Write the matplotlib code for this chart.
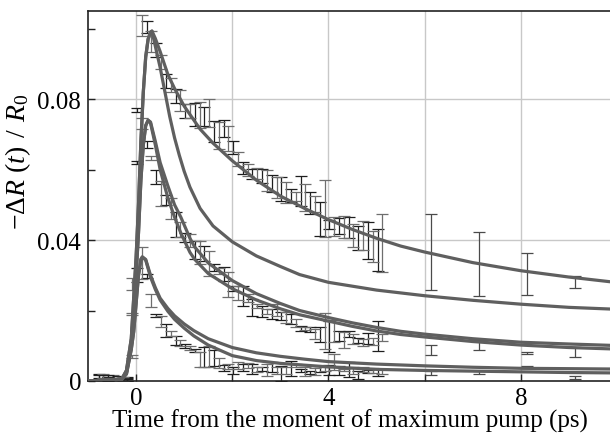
import numpy as np
import matplotlib
matplotlib.use("Agg")
import matplotlib.pyplot as plt
from matplotlib.ticker import FixedLocator, FixedFormatter

plt.rcParams['font.family'] = ['Liberation Serif', 'DejaVu Serif']
plt.rcParams['mathtext.fontset'] = 'custom'
plt.rcParams['mathtext.rm'] = 'Liberation Serif'
plt.rcParams['mathtext.it'] = 'Liberation Serif:italic'

# ---------------- measured data (dense part) ----------------
t_dense = [-0.78, -0.68, -0.58, -0.48, -0.38, -0.28, -0.18, -0.08, 0.02, 0.12,
           0.22, 0.32, 0.42, 0.52, 0.62, 0.72, 0.82, 0.92, 1.02, 1.12,
           1.22, 1.32, 1.42, 1.52, 1.62, 1.72, 1.82, 1.92, 2.02, 2.12,
           2.22, 2.32, 2.42, 2.52, 2.62, 2.72, 2.82, 2.92, 3.02, 3.12,
           3.22, 3.32, 3.42, 3.52, 3.62, 3.72, 3.82, 3.92, 4.02, 4.12,
           4.22, 4.32, 4.42, 4.52, 4.62, 4.72, 4.82, 4.92, 5.02, 5.12]

high_y = [0.0008, 0.0012, 0.0004, 0.0010, 0.0003, 0.0002, 0.0006, 0.0190, 0.0770, 0.1010,
          0.1004, 0.0964, 0.0940, 0.0905, 0.0852, 0.0840, 0.0810, 0.0795, 0.0765, 0.0767,
          0.0757, 0.0755, 0.0750, 0.0760, 0.0708, 0.0697, 0.0717, 0.0688, 0.0662, 0.0630,
          0.0604, 0.0598, 0.0587, 0.0588, 0.0582, 0.0570, 0.0560, 0.0548, 0.0545, 0.0535,
          0.0527, 0.0523, 0.0539, 0.0520, 0.0505, 0.0502, 0.0460, 0.0489, 0.0443, 0.0438,
          0.0440, 0.0437, 0.0436, 0.0412, 0.0406, 0.0413, 0.0398, 0.0382, 0.0371, 0.0391]
high_e = [0.0012, 0.0008, 0.0006, 0.0006, 0.0005, 0.0005, 0.0006, 0.0004, 0.0006, 0.0030,
          0.0017, 0.0030, 0.0020, 0.0020, 0.0020, 0.0020, 0.0020, 0.0030, 0.0020, 0.0020,
          0.0033, 0.0037, 0.0027, 0.0040, 0.0030, 0.0038, 0.0024, 0.0035, 0.0018, 0.0021,
          0.0017, 0.0017, 0.0014, 0.0016, 0.0020, 0.0030, 0.0025, 0.0030, 0.0035, 0.0030,
          0.0019, 0.0013, 0.0043, 0.0038, 0.0031, 0.0023, 0.0048, 0.0081, 0.0013, 0.0027,
          0.0023, 0.0031, 0.0030, 0.0033, 0.0033, 0.0041, 0.0052, 0.0044, 0.0060, 0.0082]

mid_y = [0.0003, 0.0010, 0.0005, 0.0002, 0.0008, 0.0000, 0.0004, 0.0070, 0.0620, 0.0730,
         0.0670, 0.0632, 0.0580, 0.0533, 0.0514, 0.0490, 0.0444, 0.0430, 0.0407, 0.0399,
         0.0372, 0.0365, 0.0362, 0.0334, 0.0323, 0.0312, 0.0303, 0.0274, 0.0262, 0.0250,
         0.0241, 0.0235, 0.0209, 0.0213, 0.0197, 0.0197, 0.0190, 0.0201, 0.0185, 0.0180,
         0.0176, 0.0165, 0.0149, 0.0150, 0.0146, 0.0133, 0.0132, 0.0142, 0.0126, 0.0141,
         0.0128, 0.0116, 0.0134, 0.0119, 0.0115, 0.0109, 0.0120, 0.0112, 0.0128, 0.0123]
mid_e = [0.0006, 0.0007, 0.0005, 0.0005, 0.0006, 0.0005, 0.0005, 0.0005, 0.0005, 0.0015,
         0.0010, 0.0006, 0.0020, 0.0035, 0.0015, 0.0030, 0.0035, 0.0021, 0.0013, 0.0018,
         0.0026, 0.0033, 0.0021, 0.0035, 0.0010, 0.0009, 0.0020, 0.0035, 0.0008, 0.0020,
         0.0028, 0.0011, 0.0024, 0.0005, 0.0016, 0.0008, 0.0015, 0.0017, 0.0012, 0.0015,
         0.0014, 0.0012, 0.0007, 0.0004, 0.0007, 0.0014, 0.0021, 0.0050, 0.0043, 0.0031,
         0.0014, 0.0023, 0.0009, 0.0014, 0.0008, 0.0011, 0.0015, 0.0010, 0.0043, 0.0010]

low_y = [0.0006, 0.0002, 0.0010, 0.0003, 0.0000, 0.0005, 0.0002, 0.0275, 0.0300, 0.0335,
         0.0298, 0.0229, 0.0187, 0.0169, 0.0144, 0.0135, 0.0115, 0.0108, 0.0100, 0.0093,
         0.0086, 0.0062, 0.0068, 0.0070, 0.0065, 0.0050, 0.0037, 0.0041, 0.0031, 0.0043,
         0.0038, 0.0044, 0.0034, 0.0032, 0.0034, 0.0030, 0.0040, 0.0030, 0.0022, 0.0030,
         0.0035, 0.0043, 0.0030, 0.0027, 0.0024, 0.0027, 0.0034, 0.0034, 0.0030, 0.0054,
         0.0030, 0.0031, 0.0033, 0.0030, 0.0017, 0.0032, 0.0027, 0.0030, 0.0025, 0.0027]
low_e = [0.0010, 0.0006, 0.0007, 0.0005, 0.0005, 0.0006, 0.0005, 0.0017, 0.0020, 0.0045,
         0.0005, 0.0018, 0.0004, 0.0015, 0.0018, 0.0007, 0.0012, 0.0008, 0.0005, 0.0005,
         0.0005, 0.0021, 0.0028, 0.0030, 0.0022, 0.0014, 0.0009, 0.0007, 0.0010, 0.0010,
         0.0010, 0.0007, 0.0014, 0.0007, 0.0006, 0.0017, 0.0014, 0.0010, 0.0021, 0.0010,
         0.0021, 0.0004, 0.0004, 0.0013, 0.0004, 0.0010, 0.0008, 0.0006, 0.0014, 0.0024,
         0.0013, 0.0004, 0.0021, 0.0010, 0.0011, 0.0007, 0.0005, 0.0008, 0.0010, 0.0006]

# ---------------- measured data (sparse part) ----------------
t_sparse = [6.14, 7.14, 8.13, 9.13]
high_sy = [0.0366, 0.0332, 0.0303, 0.0281]
high_se = [0.0107, 0.0092, 0.0059, 0.0018]
mid_sy = [0.0088, 0.0102, 0.0079, 0.0083]
mid_se = [0.0014, 0.0015, 0.0002, 0.0014]
low_sy = [0.0023, 0.0025, 0.0040, 0.0011]
low_se = [0.0006, 0.0004, 0.0002, 0.0004]

# ---------------- fitted model curves ----------------
tA = [-1.0, -0.3, -0.2, -0.1, 0.0, 0.05, 0.1, 0.15, 0.2, 0.25, 0.3, 0.33, 0.4, 0.5, 0.66, 0.8,
      1.0, 1.33, 1.6, 2.0, 2.5, 3.0, 3.5, 4.0, 4.5, 5.0, 5.5, 6.0, 7.0, 8.0, 9.0, 9.9]
fitA = [0.0, 0.0005, 0.003, 0.012, 0.035, 0.050, 0.068, 0.082, 0.092, 0.097, 0.0990, 0.0993,
        0.0972, 0.0935, 0.0870, 0.0830, 0.0780, 0.0715, 0.0675, 0.0625, 0.0570, 0.0525,
        0.0490, 0.0458, 0.0430, 0.0405, 0.0383, 0.0366, 0.0336, 0.0313, 0.0295, 0.0281]
tB = [-1.0, -0.3, -0.2, -0.1, 0.0, 0.05, 0.1, 0.15, 0.2, 0.25, 0.3, 0.33, 0.4, 0.5, 0.6, 0.7,
      0.8, 0.9, 1.0, 1.12, 1.33, 1.6, 2.0, 2.5, 3.0, 3.4, 4.0, 5.0, 6.0, 7.0, 8.0, 9.0, 9.9]
fitB = [0.0, 0.0005, 0.003, 0.012, 0.035, 0.050, 0.068, 0.082, 0.092, 0.097, 0.0990, 0.0993,
        0.0950, 0.0890, 0.0820, 0.0750, 0.0690, 0.0640, 0.0595, 0.0550, 0.0490, 0.0440,
        0.0395, 0.0355, 0.0325, 0.0302, 0.0280, 0.0258, 0.0242, 0.0229, 0.0218, 0.0209, 0.0204]
tC = [-1.0, -0.3, -0.2, -0.1, 0.0, 0.05, 0.1, 0.15, 0.2, 0.25, 0.3, 0.4, 0.5, 0.66, 0.8, 0.93,
      1.12, 1.22, 1.5, 2.0, 2.5, 3.0, 3.4, 4.0, 4.5, 5.0, 5.5, 6.0, 7.0, 8.0, 9.0, 9.9]
fitC = [0.0, 0.0004, 0.0025, 0.010, 0.030, 0.042, 0.057, 0.067, 0.0725, 0.0740, 0.0735,
        0.0680, 0.0620, 0.0554, 0.0500, 0.0465, 0.0405, 0.0380, 0.0335, 0.0285, 0.0248,
        0.0220, 0.0200, 0.0180, 0.0165, 0.0152, 0.0141, 0.0133, 0.0120, 0.0110, 0.0105, 0.0101]
fitD = [0.0, 0.0004, 0.0025, 0.010, 0.030, 0.042, 0.057, 0.067, 0.0725, 0.0740, 0.0732,
        0.0670, 0.0600, 0.0520, 0.0465, 0.0420, 0.0365, 0.0345, 0.0305, 0.0262, 0.0230,
        0.0205, 0.0188, 0.0170, 0.0155, 0.0142, 0.0132, 0.0125, 0.0112, 0.0102, 0.0095, 0.0091]
tE = [-1.0, -0.3, -0.2, -0.1, -0.05, 0.0, 0.05, 0.1, 0.13, 0.2, 0.3, 0.4, 0.5, 0.66, 0.8,
      1.0, 1.2, 1.5, 2.0, 2.5, 3.0, 3.5, 4.0, 5.0, 6.0, 7.0, 8.0, 9.0, 9.9]
fitE = [0.0, 0.0005, 0.002, 0.009, 0.014, 0.022, 0.030, 0.0345, 0.0352, 0.0345, 0.0300,
        0.0265, 0.0235, 0.0206, 0.0185, 0.0162, 0.0143, 0.0120, 0.0095, 0.0080, 0.0070,
        0.0062, 0.0055, 0.0048, 0.0043, 0.0039, 0.0036, 0.0035, 0.0034]
fitF = [0.0, 0.0005, 0.002, 0.009, 0.014, 0.022, 0.030, 0.0345, 0.0352, 0.0343, 0.0295,
        0.0260, 0.0230, 0.0198, 0.0175, 0.0150, 0.0128, 0.0102, 0.0072, 0.0058, 0.0050,
        0.0045, 0.0040, 0.0033, 0.0030, 0.0028, 0.0026, 0.0024, 0.0023]

x_major = [0, 4, 8]
x_minor = [2, 6]
x_labels = ['0', '4', '8']
y_major = [0.0, 0.04, 0.08]
y_minor = [0.02, 0.06, 0.10]
y_labels = ['0', '0.04', '0.08']

# ---------------- figure ----------------
fig = plt.figure(figsize=(6.10, 4.39), dpi=100)
ax = fig.add_axes([88/610, 57/439, 523/610, 370/439])

grid_c = '#c8c8c8'
for xv in x_major + x_minor:
    ax.axvline(xv, color=grid_c, lw=1.0, zorder=0)
for yv in y_major[1:]:
    ax.axhline(yv, color=grid_c, lw=1.0, zorder=0)

dark = '#1e1e1e'
grey = '#6e6e6e'
eb_kw = dict(fmt='none', elinewidth=0.9, capsize=4.6, capthick=0.9, zorder=2)

td = np.array(t_dense)
for ys, es in [(high_y, high_e), (mid_y, mid_e), (low_y, low_e)]:
    ys = np.array(ys); es = np.array(es)
    ax.errorbar(td[0::2], ys[0::2], yerr=es[0::2], ecolor=dark, **eb_kw)
    ax.errorbar(td[1::2], ys[1::2], yerr=es[1::2], ecolor=grey, **eb_kw)
for ys, es in [(high_sy, high_se), (mid_sy, mid_se), (low_sy, low_se)]:
    ax.errorbar(t_sparse, ys, yerr=es, ecolor='#4a4a4a', **eb_kw)

curve_c = '#5f5f5f'
for tx, fy in [(tA, fitA), (tB, fitB), (tC, fitC), (tC, fitD), (tE, fitE), (tE, fitF)]:
    ax.plot(tx, fy, color=curve_c, lw=2.3, zorder=3, solid_capstyle='round')

ax.set_xlim(-1.0, 9.875)
ax.set_ylim(0.0, 0.105)

ax.xaxis.set_major_locator(FixedLocator(x_major))
ax.xaxis.set_major_formatter(FixedFormatter(x_labels))
ax.xaxis.set_minor_locator(FixedLocator(x_minor))
ax.yaxis.set_major_locator(FixedLocator(y_major))
ax.yaxis.set_major_formatter(FixedFormatter(y_labels))
ax.yaxis.set_minor_locator(FixedLocator(y_minor))
ax.tick_params(which='both', direction='in', length=5, width=1.0, color='#222222',
               labelsize=18, pad=5)
ax.tick_params(axis='x', pad=4)

for s in ['left', 'bottom', 'top']:
    ax.spines[s].set_linewidth(1.2)
    ax.spines[s].set_color('#222222')
ax.spines['right'].set_visible(False)

ax.set_xlabel('Time from the moment of maximum pump (ps)', fontsize=18, labelpad=0)
ax.set_ylabel(r'$-\Delta R\ (t)\;\,/\;\,R_0$', fontsize=20)
ax.yaxis.set_label_coords(-0.105, 0.595)

fig.savefig('out.png', dpi=100)
